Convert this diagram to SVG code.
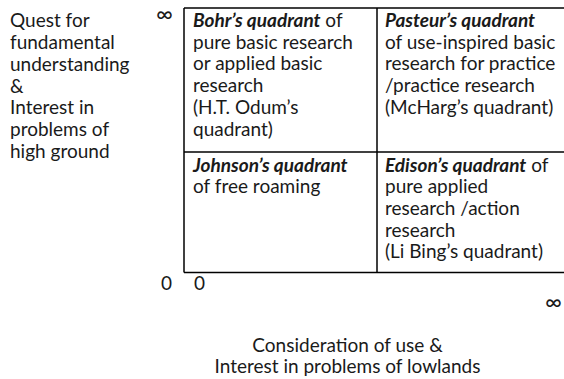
<svg xmlns="http://www.w3.org/2000/svg" width="564" height="379" viewBox="0 0 564 379">
<style>
text{font-family:Lato,"Liberation Sans",sans-serif;font-size:19px;fill:#1a1a1a}
.b{font-weight:bold;font-style:italic}
.inf{font-size:23px}
.grid line{stroke:#000;stroke-width:1.5}
</style>
<rect width="564" height="379" fill="#fff"/>
<g id="connectors" class="grid">
<line x1="184" y1="8" x2="564" y2="8"/>
<line x1="184" y1="152" x2="564" y2="152"/>
<line x1="184" y1="272.5" x2="564" y2="272.5"/>
<line x1="184" y1="8" x2="184" y2="272.5"/>
<line x1="377" y1="8" x2="377" y2="272.5"/>
</g>
<g id="y-axis-label">
<text x="10" y="27">Quest for</text>
<text x="10" y="49">fundamental</text>
<text x="10" y="71">understanding</text>
<text x="10" y="93">&amp;</text>
<text x="10" y="114">Interest in</text>
<text x="10" y="136">problems of</text>
<text x="10" y="158">high ground</text>
</g>
<g id="axis-marks">
<text x="156" y="22" class="inf">∞</text>
<text x="161" y="290">0</text>
<text x="194" y="290">0</text>
<text x="545" y="310" class="inf">∞</text>
</g>
<g id="bohr">
<text x="193" y="27"><tspan class="b">Bohr’s quadrant</tspan> of</text>
<text x="193" y="49">pure basic research</text>
<text x="193" y="70">or applied basic</text>
<text x="193" y="92">research</text>
<text x="193" y="114">(H.T. Odum’s</text>
<text x="193" y="136">quadrant)</text>
</g>
<g id="pasteur">
<text x="385" y="27" class="b">Pasteur’s quadrant</text>
<text x="385" y="49">of use-inspired basic</text>
<text x="385" y="70">research for practice</text>
<text x="385" y="92">/practice research</text>
<text x="385" y="114">(McHarg’s quadrant)</text>
</g>
<g id="johnson">
<text x="193" y="172" class="b">Johnson’s quadrant</text>
<text x="193" y="193">of free roaming</text>
</g>
<g id="edison">
<text x="385" y="172"><tspan class="b">Edison’s quadrant</tspan> of</text>
<text x="385" y="193">pure applied</text>
<text x="385" y="215">research /action</text>
<text x="385" y="237">research</text>
<text x="385" y="258">(Li Bing’s quadrant)</text>
</g>
<g id="x-axis-label">
<text x="347.5" y="352" text-anchor="middle">Consideration of use &amp;</text>
<text x="347.5" y="373" text-anchor="middle">Interest in problems of lowlands</text>
</g>
</svg>
